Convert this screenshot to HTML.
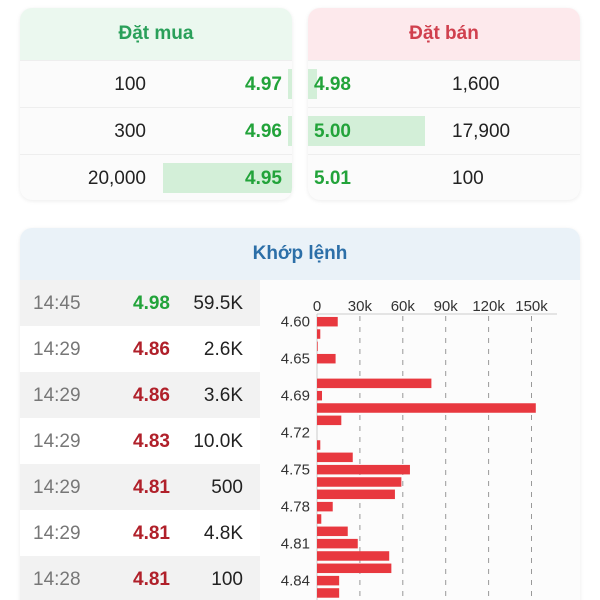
<!DOCTYPE html>
<html><head><meta charset="utf-8">
<style>
*{box-sizing:border-box;margin:0;padding:0}
html,body{width:600px;height:600px;overflow:hidden}
body{background:#fff;font-family:"Liberation Sans","Noto Sans CJK SC",sans-serif;position:relative}
.card{position:absolute;border-radius:12px;background:#fbfbfb;overflow:hidden;box-shadow:0 1px 4px rgba(0,0,0,0.08)}
.hdr{position:absolute;left:0;right:0;top:0;height:52px;display:flex;align-items:center;justify-content:center;font-size:19px;font-weight:bold}
.row{position:absolute;left:0;right:0;height:47px;border-top:1px solid #eeeeee}
.t{position:absolute;font-size:19px;top:13px;color:#222}
.g{color:#22a33a;font-weight:bold}
.r{color:#b0202a;font-weight:bold}
.bar{position:absolute;background:#d3efd8;top:8px;height:30px}
.tr{position:absolute;left:0;width:240px;height:46px}
.tr span{position:absolute;top:13px;font-size:19px}
</style></head><body>
<div class="card" style="left:20px;top:8px;width:272px;height:192px">
 <div class="hdr" style="background:#ebf8ef;color:#2aa05a">Đặt mua</div>
 <div class="row" style="top:52px"><div class="bar" style="left:268px;width:4px"></div><span class="t" style="right:146px">100</span><span class="t g" style="right:10px">4.97</span></div>
 <div class="row" style="top:99px"><div class="bar" style="left:268px;width:4px"></div><span class="t" style="right:146px">300</span><span class="t g" style="right:10px">4.96</span></div>
 <div class="row" style="top:146px"><div class="bar" style="left:143px;width:129px"></div><span class="t" style="right:146px">20,000</span><span class="t g" style="right:10px">4.95</span></div>
</div>
<div class="card" style="left:308px;top:8px;width:272px;height:192px">
 <div class="hdr" style="background:#fde9ec;color:#d0404e">Đặt bán</div>
 <div class="row" style="top:52px"><div class="bar" style="left:0;width:9px"></div><span class="t g" style="left:6px">4.98</span><span class="t" style="left:144px">1,600</span></div>
 <div class="row" style="top:99px"><div class="bar" style="left:0;width:117px"></div><span class="t g" style="left:6px">5.00</span><span class="t" style="left:144px">17,900</span></div>
 <div class="row" style="top:146px"><span class="t g" style="left:6px">5.01</span><span class="t" style="left:144px">100</span></div>
</div>
<div class="card" style="left:20px;top:228px;width:560px;height:400px;background:#fff">
 <div class="hdr" style="background:#eaf2f8;color:#2c6fa8;height:52px">Khớp lệnh</div>
 <div id="trades" style="position:absolute;left:0;top:52px;width:240px;height:350px;background:#fff"></div>
 <div style="position:absolute;left:240px;top:52px;width:320px;height:350px;background:#fcfcfc"></div>
</div>
<svg id="chart" width="600" height="600" style="position:absolute;left:0;top:0"></svg>
<script>
const times=["14:45","14:29","14:29","14:29","14:29","14:29","14:28"];
const tprices=["4.98","4.86","4.86","4.83","4.81","4.81","4.81"];
const tvols=["59.5K","2.6K","3.6K","10.0K","500","4.8K","100"];
const tcolors=["g","r","r","r","r","r","r"];
const tr=document.getElementById('trades');
times.forEach((t,i)=>{
 const d=document.createElement('div');d.className='tr';d.style.top=(i*46)+'px';d.style.background=i%2==0?'#f2f2f2':'#fff';
 
 
 d.innerHTML='<span style="left:13px;color:#777">'+t+'</span><span class="'+tcolors[i]+'" style="right:90px">'+tprices[i]+'</span><span style="right:17px;color:#222">'+tvols[i]+'</span>';
 tr.appendChild(d);
});
const priceLabels=["4.60","4.65","4.69","4.72","4.75","4.78","4.81","4.84"];
const volumes=[14.5,2.3,0.5,13,0,80,3.5,153,17,0,2.3,25,65,59,54.5,11,3,21.5,28.5,50.5,52,15.5,15.5,8];
const ticks=[0,30,60,90,120,150];
const ns='http://www.w3.org/2000/svg';
const svg=document.getElementById('chart');
const x0=317,xs=1.43,y0=321.7,step=12.33,bh=9.5;
const X=v=>x0+v*xs, Y=i=>y0+i*step;
function el(tag,attrs){const e=document.createElementNS(ns,tag);for(const k in attrs)e.setAttribute(k,attrs[k]);svg.appendChild(e);return e;}
const ax=el('line',{x1:x0,x2:557,y1:314,y2:314,stroke:'#ccc','stroke-width':1});


ticks.forEach(t=>{
 if(t>0){const g=el('line',{x1:X(t),x2:X(t),y1:316,y2:600,stroke:'#999','stroke-width':1,'stroke-dasharray':'5,6'});
 
 }
 const tx=el('text',{x:X(t),y:311,'text-anchor':'middle','font-size':15,fill:'#333','font-family':'Liberation Sans'});
 tx.textContent=t===0?'0':t+'k';
 
 
});
const yl=el('line',{x1:x0,x2:x0,y1:314,y2:600,stroke:'#ccc','stroke-width':1});


volumes.forEach((v,i)=>{
 const r=el('rect',{x:x0,y:Y(i)-bh/2,width:Math.max(0,v*xs),height:bh,fill:'#e8383f'});
 
 
});
priceLabels.forEach((p,j)=>{
 const tx=el('text',{x:310,y:Y(j*3)+5,'text-anchor':'end','font-size':15,fill:'#333','font-family':'Liberation Sans'});
 tx.textContent=p;
 
 
});
</script>
</body></html>
